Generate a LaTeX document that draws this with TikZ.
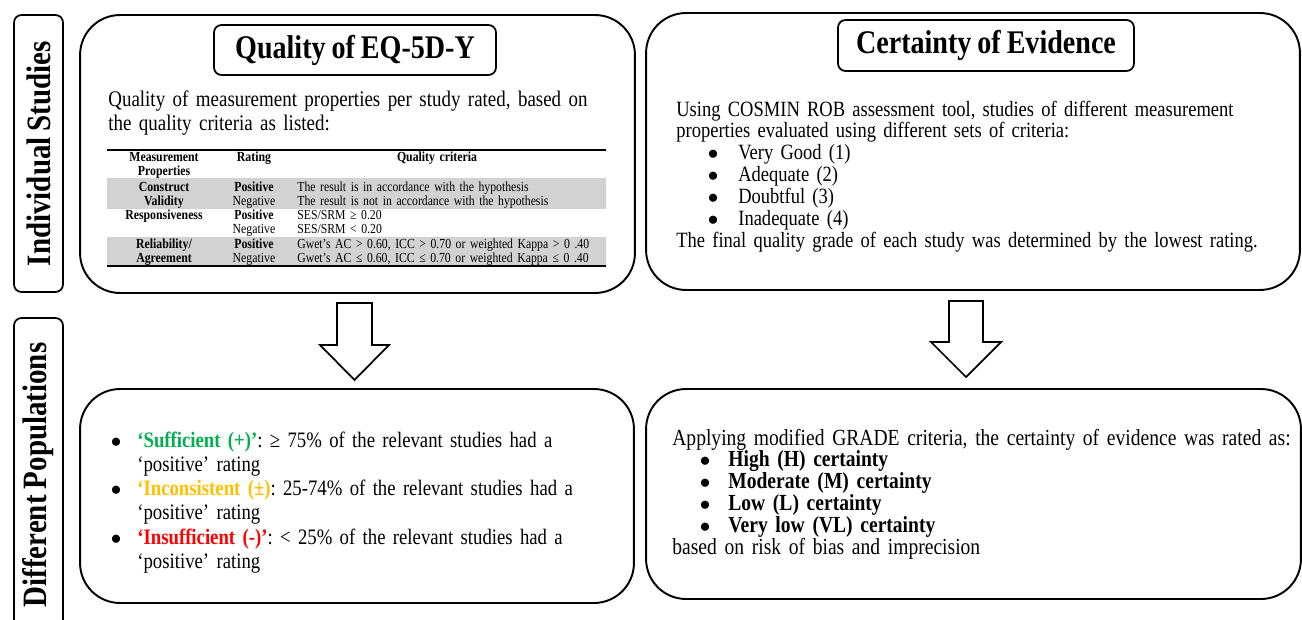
\documentclass[tikz,border=0pt]{standalone}
\usepackage{fontspec}
\setmainfont{Liberation Serif}[FakeStretch=0.85, WordSpace=0.85]
\usepackage{enumitem}
\usepackage{xcolor}
\usetikzlibrary{positioning}
\frenchspacing
\definecolor{suffgreen}{HTML}{00B050}
\definecolor{incorange}{HTML}{FFC000}
\definecolor{insuffred}{HTML}{FF0000}
\definecolor{rowgray}{HTML}{D2D2D2}
\newcommand{\dotlabel}{$\bullet$}
\tikzstyle{panel} = [rectangle, draw=black, line width=1.1pt, rounded corners=0.8cm]
\tikzstyle{sidelabel} = [rectangle, draw=black, line width=1pt, rounded corners=0.15cm, rotate=90, minimum height=0.98cm, font=\fontsize{19.4}{21}\selectfont\bfseries]
\tikzstyle{heading} = [rectangle, draw=black, line width=1pt, rounded corners=0.15cm, font=\fontsize{18.8}{21}\selectfont\bfseries]
\tikzstyle{bodytext} = [anchor=base west, inner sep=0pt, align=left]
\tikzstyle{cell} = [anchor=base, inner sep=0pt, text width=2.2cm, align=center, font=\fontsize{7.9}{8}\selectfont]
\tikzstyle{crit} = [anchor=base west, inner sep=0pt, text width=6.2cm, align=left, font=\fontsize{7.85}{8}\selectfont]
\tikzstyle{downarrow} = [draw=black, line width=1pt, fill=white, line join=miter]

\begin{document}
\begin{tikzpicture}[x=0.02cm, y=-0.02cm]
        \useasboundingbox (0,0) rectangle (1302,619);

        % side labels
        \node (indiv) [sidelabel, minimum width=5.54cm] at (38.5,153.5) {Individual Studies};
        \node (popul) [sidelabel, minimum width=6.28cm] at (38.5,475) {Different Populations};

        % panels
        \node (qualpanel) [panel, minimum width=11.1cm, minimum height=5.56cm] at (357.5,154) {};
        \node (certpanel) [panel, minimum width=13.08cm, minimum height=5.54cm] at (973,151.5) {};
        \node (ratepanel) [panel, minimum width=11.08cm, minimum height=4.28cm] at (357,496) {};
        \node (gradepanel) [panel, minimum width=13.1cm, minimum height=4.2cm] at (973.5,494) {};

        % headings
        \node (qualhead) [heading, minimum width=5.64cm, minimum height=1cm] at (355,50) {Quality of EQ-5D-Y};
        \node (certhead) [heading, minimum width=5.92cm, minimum height=1.02cm] at (986,45.5) {Certainty of Evidence};

        % quality text and table
        \node (qualtext) [bodytext, text width=10.4cm, font=\fontsize{12.7}{14.2}\selectfont] at (108,106)
                {Quality of measurement properties per study rated, based on\\the quality criteria as listed:};
        \fill[rowgray] (107,178) rectangle (606,209);
        \fill[rowgray] (107,237) rectangle (606,265);
        \draw[line width=0.8pt] (107,150) -- (606,150);
        \draw[line width=0.8pt] (107,266) -- (606,266);
        \node (hdmeas) [cell] at (164,161) {\textbf{Measurement}\\\textbf{Properties}};
        \node (hdrate) [cell] at (254,161) {\textbf{Rating}};
        \node (hdcrit) [cell, text width=3cm] at (437,161) {\textbf{Quality criteria}};
        \node (cvname) [cell] at (164,191) {\textbf{Construct}\\\textbf{Validity}};
        \node (cvrate) [cell] at (254,191) {\textbf{Positive}\\Negative};
        \node (cvcrit) [crit] at (297,191) {The result is in accordance with the hypothesis\\The result is not in accordance with the hypothesis};
        \node (rsname) [cell] at (164,219) {\textbf{Responsiveness}};
        \node (rsrate) [cell] at (254,219) {\textbf{Positive}\\Negative};
        \node (rscrit) [crit] at (297,219) {SES/SRM ≥ 0.20\\SES/SRM < 0.20};
        \node (rlname) [cell] at (164,248) {\textbf{Reliability/}\\\textbf{Agreement}};
        \node (rlrate) [cell] at (254,248) {\textbf{Positive}\\Negative};
        \node (rlcrit) [crit] at (297,248) {Gwet’s AC > 0.60, ICC > 0.70 or weighted Kappa > 0 .40\\Gwet’s AC ≤ 0.60, ICC ≤ 0.70 or weighted Kappa ≤ 0 .40};

        % certainty text
        \node (certtext) [bodytext, text width=12.6cm, font=\fontsize{12.4}{12.5}\selectfont] at (676,116)
                {Using COSMIN ROB assessment tool, studies of different measurement\\properties evaluated using different sets of criteria:
                \begin{itemize}[nosep, leftmargin=1.24cm, labelsep=0.4cm, label=\dotlabel]
                \item Very Good (1)
                \item Adequate (2)
                \item Doubtful (3)
                \item Inadequate (4)
                \end{itemize}
                The final quality grade of each study was determined by the lowest rating.};

        % rating text
        \node (ratetext) [bodytext, text width=10.6cm, font=\fontsize{12.55}{13.8}\selectfont] at (100,423)
                {\begin{itemize}[nosep, leftmargin=0.74cm, labelsep=0.32cm, label=\dotlabel]
                \item \textcolor{suffgreen}{\textbf{‘Sufficient (+)’}}: ≥ 75\% of the relevant studies had a\newline ‘positive’ rating
                \item \textcolor{incorange}{\textbf{‘Inconsistent (±)}}: 25-74\% of the relevant studies had a\newline ‘positive’ rating
                \item \textcolor{insuffred}{\textbf{‘Insufficient (-)’}}: < 25\% of the relevant studies had a\newline ‘positive’ rating
                \end{itemize}};

        % grade text
        \node (gradetext) [bodytext, text width=12.8cm, font=\fontsize{13.1}{12.5}\selectfont] at (672,445)
                {Applying modified GRADE criteria, the certainty of evidence was rated as:
                \begin{itemize}[nosep, leftmargin=1.12cm, labelsep=0.36cm, label=\dotlabel]
                \item \textbf{High (H) certainty}
                \item \textbf{Moderate (M) certainty}
                \item \textbf{Low (L) certainty}
                \item \textbf{Very low (VL) certainty}
                \end{itemize}
                based on risk of bias and imprecision};

        % block arrows
        \coordinate (arrleft) at (354.5,303);
        \coordinate (arrright) at (966,301);
        \draw[downarrow] (arrleft) ++(-17.5,0) -- ++(35,0) -- ++(0,42) -- ++(17,0) -- ++(-34.5,35) -- ++(-34.5,-35) -- ++(17,0) -- cycle;
        \draw[downarrow] (arrright) ++(-17,0) -- ++(34,0) -- ++(0,41) -- ++(18,0) -- ++(-35,35) -- ++(-35,-35) -- ++(18,0) -- cycle;

\end{tikzpicture}
\end{document}
